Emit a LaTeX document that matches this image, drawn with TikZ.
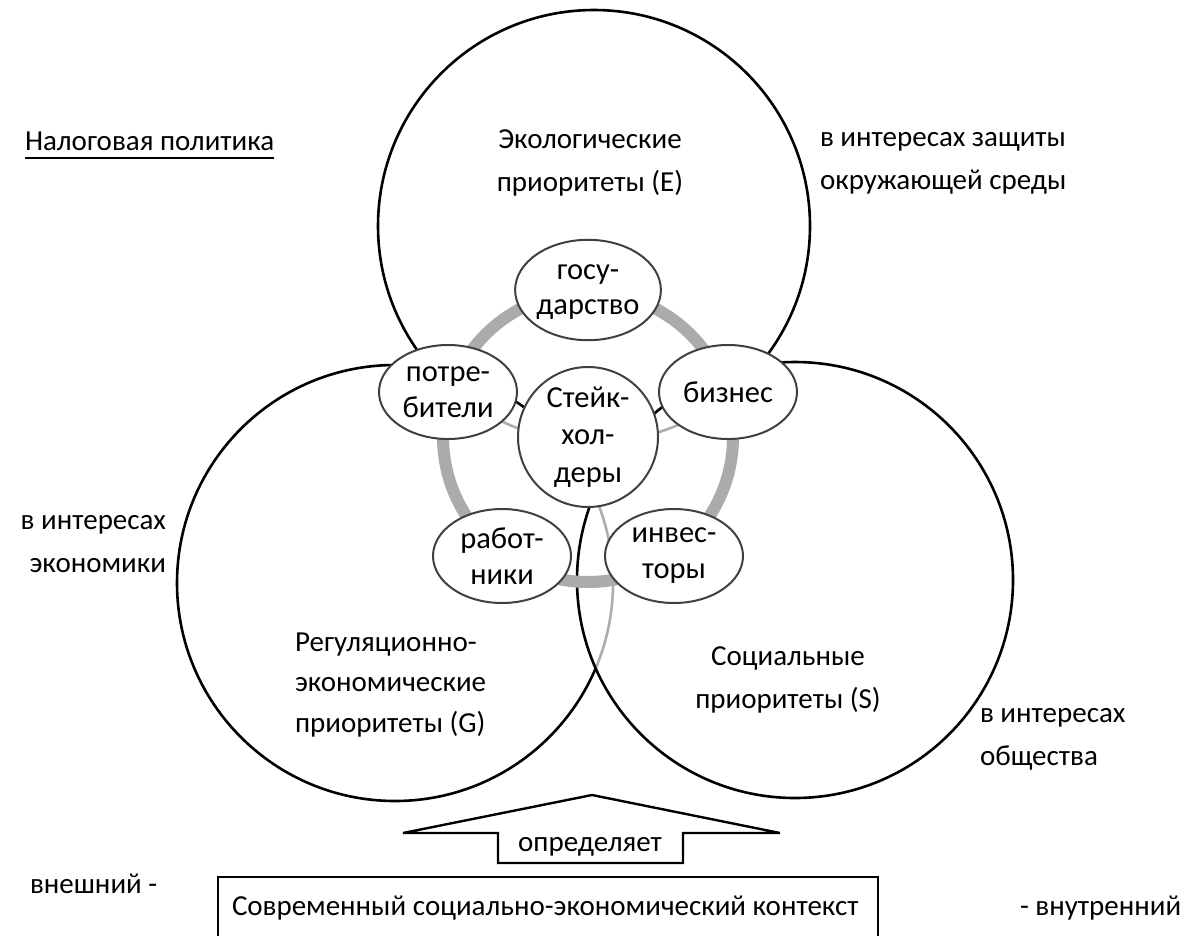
\documentclass[tikz,border=0pt]{standalone}
\usepackage{fontspec}
\setmainfont{Carlito}
\usetikzlibrary{shapes.geometric}
\definecolor{ringgray}{gray}{0.67}
\definecolor{rimgray}{gray}{0.25}
\begin{document}
\begin{tikzpicture}[x=1pt,y=-1pt,
  every node/.style={inner sep=0pt, outer sep=0pt},
  lbl/.style={font=\fontsize{29}{43}\selectfont},
  venn/.style={circle, draw=black, line width=2.6pt, fill=white,
               fill opacity=0.68, minimum size=#1},
  sat/.style={ellipse, draw=rimgray, line width=2pt, fill=white,
              minimum width=138, minimum height=94, align=center,
              font=\fontsize{30.5}{36}\selectfont},
  hubst/.style={circle, draw=rimgray, line width=2pt, fill=white,
              minimum size=140, align=center,
              font=\fontsize{30.5}{37.5}\selectfont},
  ring/.style={draw=ringgray, line width=12pt},
  frame/.style={draw=black, line width=2.4pt, line join=miter}
]
\clip (0,0) rectangle (1185,935);

% three priority circles, the later ones veil the edges beneath them
\node[venn=432] (E) at (594,226) {};
\node[venn=436] (G) at (395,583) {};
\node[venn=436] (S) at (795,580) {};

% stakeholder ring
\coordinate (c) at (588,437);
\draw[ring] (c) circle[radius=145];

\node[hubst] (hub) at (c) {Стейк-\\хол-\\деры};
\node[sat] (gos)  at (588,290) {\raisebox{8pt}{\begin{tabular}{@{}c@{}}госу-\\[-1pt]дарство\end{tabular}}};
\node[sat] (biz)  at (728,392) {бизнес};
\node[sat] (potr) at (448,392) {потре-\\бители};
\node[sat] (rab)  at (502,556) {работ-\\ники};
\node[sat] (inv)  at (674,556) {инвес-\\торы};

% circle captions
\node[lbl, align=center] (eco) at (590,163) {Экологические\\приоритеты (E)};
\node[lbl, align=center] (soc) at (788,680) {Социальные\\приоритеты (S)};
\node[lbl, align=left, anchor=west, font=\fontsize{29}{40.5}\selectfont] (reg) at (295,685)
  {Регуляционно-\\экономические\\приоритеты (G)};

% side notes
\node[lbl, anchor=base west] (nalog) at (25,150) {Налоговая политика};
\draw[line width=1.8pt] ([yshift=-8pt]nalog.base west) -- ([yshift=-8pt]nalog.base east);
\node[lbl, align=left, anchor=west] (envnote) at (820,163) {в интересах защиты\\окружающей среды};
\node[lbl, align=right, anchor=east] (econote) at (166,544) {в интересах\\экономики};
\node[lbl, align=left, anchor=west] (socnote) at (980,739) {в интересах\\общества};

% context box and the arrow it sends upward
\node[lbl, anchor=west] (ext) at (30,884) {внешний -};
\node[lbl, anchor=west] (int) at (1020,908) {- внутренний};
\draw[frame] (218,960) -- (218,877) -- (878,877) -- (878,960);
\node[lbl, anchor=west] (ctx) at (232,908) {Современный социально-экономический контекст};

\coordinate (tip) at (592,795);
\draw[frame] (tip) -- (780,833) -- (683,833) -- (683,863) -- (498,863)
  -- (498,833) -- (403,833) -- cycle;
\node[lbl] (det) at (590,847) {определяет};
\end{tikzpicture}
\end{document}
